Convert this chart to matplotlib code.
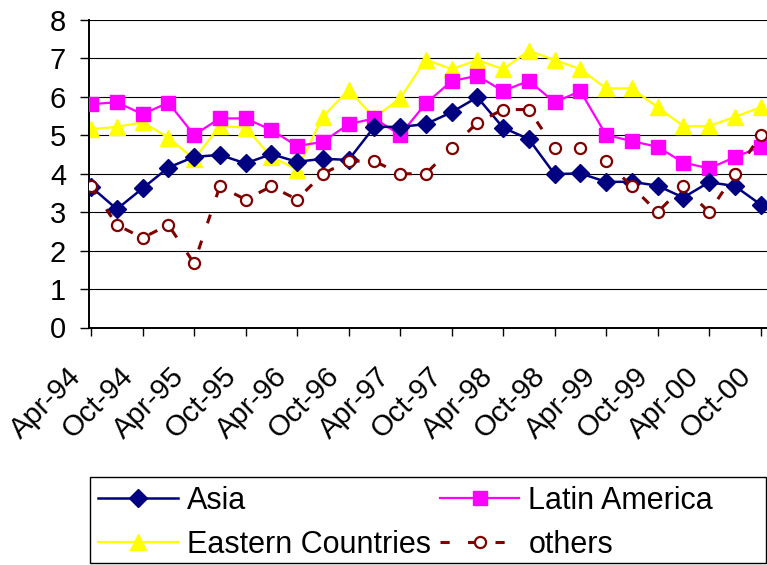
import numpy as np
import matplotlib
matplotlib.use('Agg')
import matplotlib.pyplot as plt
from matplotlib.patches import Rectangle

# Datas trimestrais (Apr-94 .. Oct-00)
trimestres = ['Apr-94', 'Jul-94', 'Oct-94', 'Jan-95', 'Apr-95', 'Jul-95', 'Oct-95',
              'Jan-96', 'Apr-96', 'Jul-96', 'Oct-96', 'Jan-97', 'Apr-97', 'Jul-97',
              'Oct-97', 'Jan-98', 'Apr-98', 'Jul-98', 'Oct-98', 'Jan-99', 'Apr-99',
              'Jul-99', 'Oct-99', 'Jan-00', 'Apr-00', 'Jul-00', 'Oct-00']

asia = [3.66, 3.08, 3.62, 4.16, 4.44, 4.49, 4.27, 4.51, 4.31, 4.39, 4.36, 5.22, 5.22, 5.29,
        5.60, 5.99, 5.20, 4.90, 3.99, 4.01, 3.79, 3.79, 3.69, 3.38, 3.78, 3.68, 3.20]
latin_america = [5.81, 5.86, 5.55, 5.85, 5.01, 5.44, 5.44, 5.14, 4.72, 4.83, 5.29, 5.44, 5.01, 5.83,
                 6.41, 6.55, 6.15, 6.42, 5.86, 6.15, 5.01, 4.85, 4.70, 4.29, 4.14, 4.43, 4.70]
eastern = [5.16, 5.22, 5.34, 4.94, 4.38, 5.24, 5.20, 4.44, 4.11, 5.48, 6.18, 5.46, 5.96, 6.97,
           6.72, 6.96, 6.72, 7.20, 6.96, 6.72, 6.22, 6.22, 5.73, 5.24, 5.24, 5.48, 5.73]
others = [3.67, 2.67, 2.33, 2.67, 1.67, 3.67, 3.33, 3.67, 3.33, 4.00, 4.33, 4.33, 4.00, 4.00,
          4.67, 5.33, 5.67, 5.67, 4.67, 4.67, 4.33, 3.67, 3.00, 3.67, 3.00, 4.00, 5.00]

plt.rcParams['font.family'] = ['Liberation Sans', 'DejaVu Sans']
plt.rcParams['font.size'] = 21

fig = plt.figure(figsize=(7.67, 5.65), dpi=100)
ax = fig.add_axes([89 / 767, 1 - 327.5 / 565, 1 - 89 / 767, (327.5 - 20) / 565])

x = np.arange(len(trimestres))

l_asia, = ax.plot(x, asia, color='#000080', lw=1.8, marker='D', ms=9.5, label='Asia', zorder=4)
l_lat, = ax.plot(x, latin_america, color='#FF00FF', lw=1.6, marker='s', ms=10, label='Latin America', zorder=3)
l_east, = ax.plot(x, eastern, color='#FFFF00', lw=1.6, marker='^', ms=11, label='Eastern Countries', zorder=2)
l_oth, = ax.plot(x, others, color='#800000', lw=2.2, ls=(0, (3, 6)), marker='o', ms=8,
                 mfc='white', mec='#800000', mew=1.6, label='others', zorder=5)

ax.set_xticks(x[::2])
ax.set_xticklabels([])
ax.set_yticks(range(9))
ax.set_ylim(0, 8)
ax.set_xlim(-0.08, 26.25)

# rótulos do eixo x a 45 graus, deslocados para a esquerda como no Excel
for xi in x[::2]:
    ax.annotate(trimestres[xi], xy=(xi, 0), xycoords=ax.get_xaxis_transform(),
                xytext=(-10, -32), textcoords='offset points', rotation=45,
                ha='right', va='center', rotation_mode='anchor', annotation_clip=False)

ax.yaxis.grid(True, color='black', lw=0.8)
ax.set_axisbelow(True)
for s in ['top', 'right']:
    ax.spines[s].set_visible(False)
ax.spines['left'].set_linewidth(1.4)
ax.spines['bottom'].set_linewidth(1.4)
ax.tick_params(axis='y', direction='out', length=6.5, width=1, pad=10)
ax.tick_params(axis='x', direction='out', length=5.5, width=1)

# legenda sem moldura; a caixa é desenhada à parte
leg = fig.legend([l_asia, l_east, l_lat, l_oth],
                 ['Asia', 'Eastern Countries', 'Latin America', 'others'],
                 loc='upper left', bbox_to_anchor=(92 / 767, 1 - 480 / 565),
                 ncol=2, frameon=False, fontsize=22,
                 handlelength=2.6, handletextpad=0.3, borderpad=0.2, labelspacing=0.45,
                 borderaxespad=0, columnspacing=0.3)
fig.patches.append(Rectangle((90 / 767, 2 / 565), 676 / 767, 86 / 565, transform=fig.transFigure,
                             fill=False, edgecolor='black', lw=1))

fig.savefig('out.png', dpi=100)
